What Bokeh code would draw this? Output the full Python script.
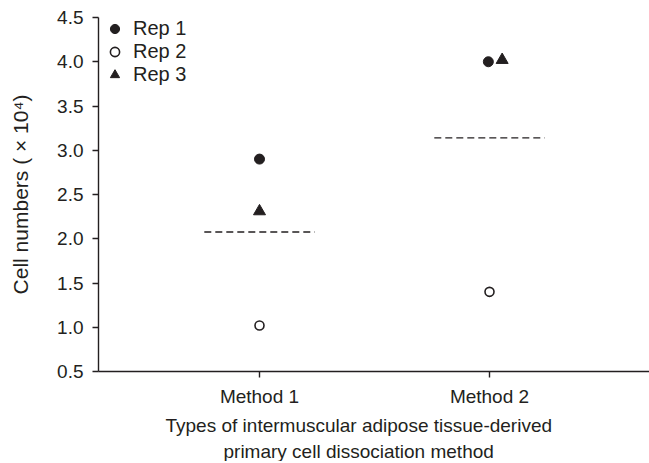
from bokeh.plotting import figure
from bokeh.models import FixedTicker, Legend, LegendItem, Range1d, NumeralTickFormatter, Title
from bokeh.embed import file_html
from bokeh.resources import INLINE

# ---- data ----
methods = ["Method 1", "Method 2"]
rep1 = [2.90, 4.00]
rep2 = [1.02, 1.40]
rep3 = [2.31, 4.02]
y_ticks = [0.5, 1.0, 1.5, 2.0, 2.5, 3.0, 3.5, 4.0, 4.5]
x_title = ["Types of intermuscular adipose tissue-derived", "primary cell dissociation method"]
y_title = "Cell numbers ( \u00d7 10\u2074)"

# ---- style / layout constants ----
FONT = "Liberation Sans"
INK = "#231f20"
xpos = [i + 1 for i in range(len(methods))]
rep1_dx = [0.0, -0.005]
rep3_dx = [0.0, 0.055]
half_w = 0.24
title_offsets = [67, 125]

means = [(a + b + c) / 3 for a, b, c in zip(rep1, rep2, rep3)]

FW, FH = 551, 354
p = figure(frame_width=FW, frame_height=FH, output_backend="svg", toolbar_location=None,
           x_range=Range1d(0.3, 0.3 + FW / 230), y_range=Range1d(0.5, 4.5),
           min_border_left=98, min_border_right=0, min_border_top=17, min_border_bottom=0)
p.outline_line_color = None
p.grid.visible = False
p.background_fill_color = "white"

r1 = p.scatter([x + d for x, d in zip(xpos, rep1_dx)], rep1, marker="circle", size=10,
               fill_color=INK, line_color=INK)
r2 = p.scatter(xpos, rep2, marker="circle", size=9, fill_color="white",
               line_color=INK, line_width=1.6)
r3 = p.scatter([x + d for x, d in zip(xpos, rep3_dx)], rep3, marker="triangle", size=12,
               fill_color=INK, line_color=INK)

p.segment(x0=[x - half_w for x in xpos], x1=[x + half_w for x in xpos], y0=means, y1=means,
          line_color=INK, line_width=1.4, line_dash="7 4")

legend = Legend(items=[LegendItem(label="Rep 1", renderers=[r1]),
                       LegendItem(label="Rep 2", renderers=[r2]),
                       LegendItem(label="Rep 3", renderers=[r3])],
                location=(4, FH - 69))
legend.border_line_color = None
legend.background_fill_alpha = 0
legend.label_text_font = FONT
legend.label_text_font_size = "20px"
legend.label_text_color = INK
legend.glyph_width = 25
legend.glyph_height = 23
legend.label_height = 23
legend.spacing = 0
legend.padding = 0
legend.margin = 0
legend.label_standoff = 6
p.add_layout(legend)

# y axis
ya = p.yaxis[0]
ya.ticker = FixedTicker(ticks=y_ticks)
ya.formatter = NumeralTickFormatter(format="0.0")
ya.axis_label = y_title
ya.minor_tick_line_color = None
ya.major_tick_out = 6
ya.major_tick_in = 0

# x axis
xa = p.xaxis[0]
xa.ticker = FixedTicker(ticks=xpos)
xa.major_label_overrides = {x: m for x, m in zip(xpos, methods)}
xa.minor_tick_line_color = None
xa.major_tick_out = 6
xa.major_tick_in = 0

for ax in (xa, ya):
    ax.axis_line_color = INK
    ax.axis_line_width = 1.4
    ax.major_tick_line_color = INK
    ax.major_tick_line_width = 1.4
    ax.major_label_text_font = FONT
    ax.major_label_text_font_size = "19px"
    ax.major_label_text_color = INK
    ax.axis_label_text_font = FONT
    ax.axis_label_text_font_size = "21px"
    ax.axis_label_text_font_style = "normal"
    ax.axis_label_text_color = INK

ya.major_label_standoff = 9
ya.axis_label_standoff = 22
xa.major_label_standoff = 8

for i, line in enumerate(x_title):
    t = Title(text=line, align="left", offset=title_offsets[i], text_font=FONT,
              text_font_size="19px", text_font_style="normal", text_color=INK,
              standoff=(6 if i == 0 else 0))
    p.add_layout(t, "below")

open("out.html", "w").write(file_html(p, INLINE))
